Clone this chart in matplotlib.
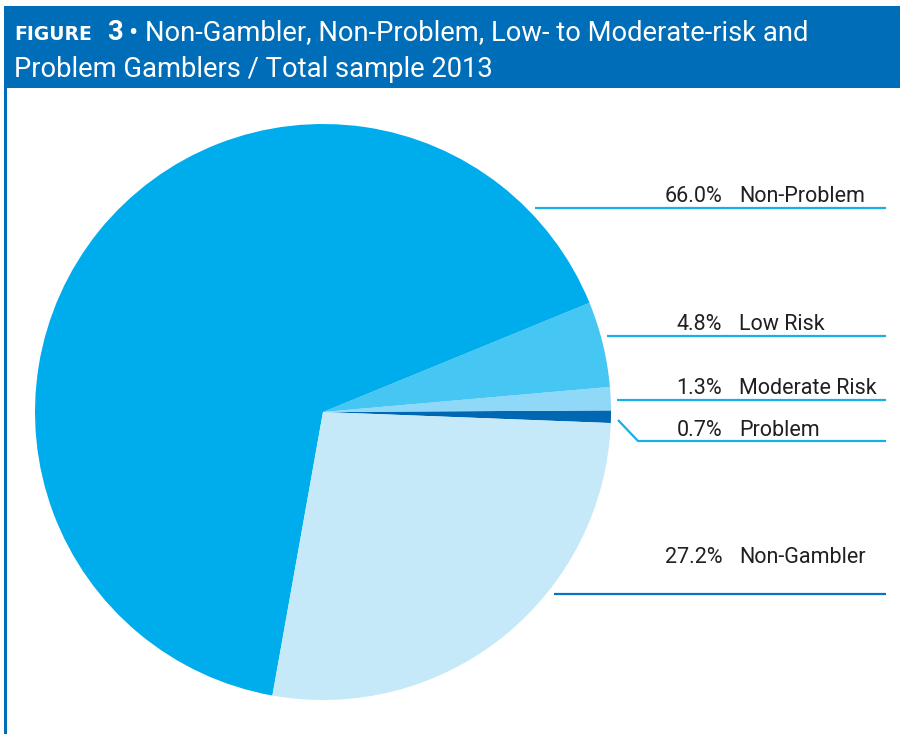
import matplotlib
matplotlib.use("Agg")
import matplotlib.pyplot as plt
from matplotlib.patches import Rectangle

# Data (drawn counter-clockwise from the right side)
categories = ["Problem", "Moderate Risk", "Low Risk", "Non-Problem", "Non-Gambler"]
values = [0.7, 1.3, 4.8, 66.0, 27.2]
pct_labels = ["0.7%", "1.3%", "4.8%", "66.0%", "27.2%"]
colors = ["#0068b3", "#8fd8f7", "#45c6f3", "#00adec", "#c5e9f8"]

W, H = 900, 734
fig = plt.figure(figsize=(9, 7.34), dpi=100)
ax = fig.add_axes([0, 0, 1, 1])

def Y(y):  # pixel-from-top to data
    return H - y

# pie
cx, cy, r = 323, Y(412), 288
ax.pie(values, colors=colors, startangle=-2.2, counterclock=True,
       center=(cx, cy), radius=r, frame=True,
       wedgeprops=dict(linewidth=0))
ax.set_xlim(0, W)
ax.set_ylim(0, H)
ax.set_aspect("auto")
ax.axis("off")

HEAD = "#006db8"
ax.add_patch(Rectangle((4, Y(88)), W - 4, 82, facecolor=HEAD, edgecolor="none", zorder=1))
ax.add_patch(Rectangle((4, 0), 3, Y(88), facecolor=HEAD, edgecolor="none", zorder=1))

tfont = "Roboto"
ax.text(14, Y(40), "FIGURE", color="white", fontsize=13.5, fontweight="bold",
        family="DejaVu Sans", va="baseline", ha="left")
ax.text(107, Y(40), "3", color="white", fontsize=19.7, fontweight="bold",
        family=tfont, va="baseline", ha="left")
ax.text(129, Y(40), "\u2022 Non-Gambler, Non-Problem, Low- to Moderate-risk and",
        color="white", fontsize=19.7, family=tfont, va="baseline", ha="left")
ax.text(14, Y(77), "Problem Gamblers / Total sample 2013",
        color="white", fontsize=19.7, family=tfont, va="baseline", ha="left")

LINE = "#14b0ea"
lfont = "Roboto"
leaders = {
    "Non-Problem": ([535, 886], [208, 208], 202),
    "Low Risk": ([607, 886], [336, 336], 330),
    "Moderate Risk": ([617, 886], [400, 400], 394),
    "Problem": ([618, 638, 886], [420, 441, 441], 436),
    "Non-Gambler": ([554, 886], [594, 594], 563),
}
for cat, pct in zip(categories, pct_labels):
    xs, ys, tb = leaders[cat]
    col = "#0a72c2" if cat == "Non-Gambler" else LINE
    ax.plot(xs, [Y(v) for v in ys], color=col, lw=1.6, solid_capstyle="butt")
    ax.text(722, Y(tb), pct, ha="right", va="baseline", fontsize=15.5,
            family=lfont, fontweight="normal", color="#231f20")
    ax.text(739, Y(tb), cat, ha="left", va="baseline", fontsize=15.5,
            family=lfont, fontweight="normal", color="#231f20")

fig.savefig("out.png", dpi=100)
